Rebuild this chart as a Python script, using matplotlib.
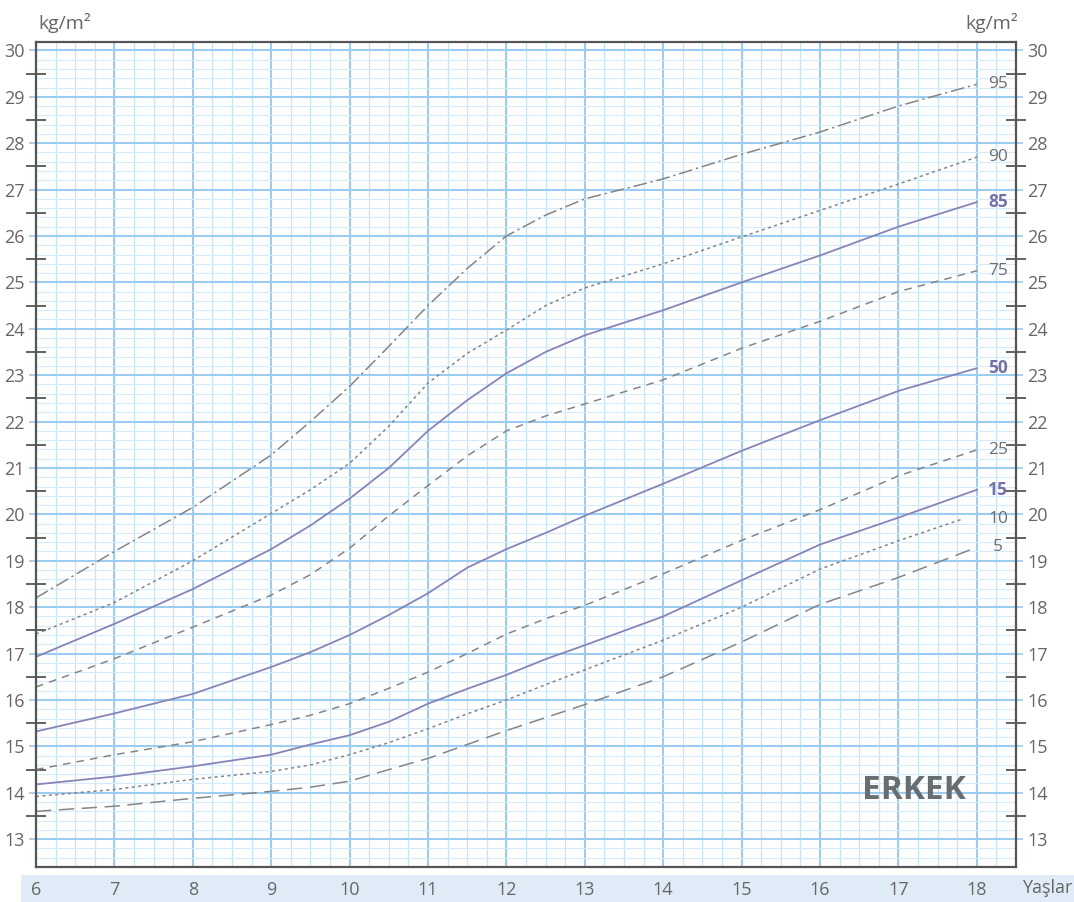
import numpy as np
import matplotlib
matplotlib.use("Agg")
import matplotlib.pyplot as plt
from matplotlib.patches import Rectangle

plt.rcParams["font.family"] = ["Liberation Sans Narrow", "Open Sans", "DejaVu Sans"]

# --- data: BMI percentiles (kg/m2) for boys, ages 6-18 ---
ages = [6, 7, 8, 9, 9.5, 10, 10.5, 11, 11.5, 12, 12.5, 13, 14, 15, 16, 17, 18]
ages_p10 = ages[:-1] + [17.8]

p95 = [18.2, 19.2, 20.15, 21.28, 22.0, 22.76, 23.62, 24.5, 25.3, 26.0, 26.45, 26.8, 27.23, 27.76, 28.24, 28.8, 29.27]
p90 = [17.42, 18.1, 19.0, 20.02, 20.53, 21.1, 21.9, 22.83, 23.47, 23.97, 24.5, 24.88, 25.4, 25.98, 26.55, 27.12, 27.7]
p85 = [16.93, 17.64, 18.39, 19.25, 19.76, 20.34, 21.0, 21.8, 22.46, 23.04, 23.5, 23.86, 24.4, 25.0, 25.58, 26.2, 26.73]
p75 = [16.28, 16.89, 17.57, 18.26, 18.7, 19.27, 19.97, 20.62, 21.26, 21.8, 22.12, 22.38, 22.9, 23.58, 24.16, 24.8, 25.25]
p50 = [15.32, 15.71, 16.13, 16.71, 17.03, 17.4, 17.83, 18.3, 18.85, 19.25, 19.6, 19.97, 20.66, 21.37, 22.03, 22.66, 23.15]
p25 = [14.5, 14.82, 15.1, 15.47, 15.67, 15.92, 16.25, 16.6, 17.0, 17.42, 17.75, 18.04, 18.72, 19.44, 20.1, 20.83, 21.39]
p15 = [14.18, 14.35, 14.57, 14.82, 15.04, 15.24, 15.53, 15.92, 16.24, 16.54, 16.88, 17.18, 17.8, 18.58, 19.35, 19.93, 20.53]
p10 = [13.92, 14.07, 14.29, 14.46, 14.6, 14.82, 15.08, 15.38, 15.7, 16.0, 16.33, 16.65, 17.29, 18.0, 18.82, 19.43, 19.89]
p5 = [13.6, 13.71, 13.88, 14.03, 14.12, 14.25, 14.5, 14.74, 15.04, 15.34, 15.62, 15.9, 16.5, 17.25, 18.06, 18.64, 19.29]

GRAY = "#858585"
PURPLE = "#8784b8"
LABEL_GRAY = "#6e6e6e"
LABEL_PURPLE = "#7471a8"

fig = plt.figure(figsize=(10.74, 9.02), dpi=100)
ax = fig.add_axes([0.0335, 0.0388, 0.9125, 0.9146])
ax.set_xlim(6, 18.5)
ax.set_ylim(12.4, 30.18)

# light blue band behind the age labels
fig.patches.append(Rectangle((0.02, 0.0), 0.98, 0.03, transform=fig.transFigure,
                             facecolor="#dfecf7", edgecolor="none", zorder=-5))

# graph-paper grid
for x in np.arange(6, 18.51, 0.25):
    major = abs(x - round(x)) < 1e-6
    ax.axvline(x, color="#9ccdf1" if major else "#c9e4f8",
               lw=1.5 if major else 0.9, zorder=1)
for y in np.arange(12.4, 30.2, 0.2):
    major = abs(y - round(y)) < 1e-6
    ax.axhline(y, color="#9ccdf1" if major else "#d6ebfa",
               lw=1.5 if major else 0.8, zorder=1)

# percentile curves
curves = [
    (ages, p95, "95", GRAY, (9, 2.5, 1.5, 2.5), False),
    (ages, p90, "90", GRAY, (2, 2.2), False),
    (ages, p85, "85", PURPLE, None, True),
    (ages, p75, "75", GRAY, (5, 4), False),
    (ages, p50, "50", PURPLE, None, True),
    (ages, p25, "25", GRAY, (5, 4), False),
    (ages, p15, "15", PURPLE, None, True),
    (ages_p10, p10, "10", GRAY, (2, 2.2), False),
    (ages, p5, "5", GRAY, (10, 5), False),
]
for xs, ys, name, color, dashes, bold in curves:
    kw = dict(color=color, lw=1.3 if bold else 1.1, zorder=3)
    if dashes:
        kw["dashes"] = dashes
    ax.plot(xs, ys, **kw)
    ax.text(18.27, ys[-1], name, ha="center", va="center", fontsize=12.5,
            color=LABEL_PURPLE if bold else LABEL_GRAY,
            fontweight="bold" if bold else "normal", zorder=4)

ax.text(17.2, 14.05, "ERKEK", ha="center", va="center", fontsize=24,
        fontweight="bold", color="#686d72", zorder=4)

# axes styling
for s in ax.spines.values():
    s.set_color("#555555")
    s.set_linewidth(1.6)
    s.set_zorder(5)

ax.set_yticks(range(13, 31))
ax.set_yticks(np.arange(13.5, 30, 1.0), minor=True)
ax.tick_params(axis="y", which="major", left=True, right=True, labelleft=True,
               labelright=True, direction="out", length=5, width=1.4,
               color="#a9d2f1", labelsize=13, labelcolor="#666666", pad=3)
ax.tick_params(axis="y", which="minor", left=True, right=True,
               direction="inout", length=14, width=1.3, color="#555555")
ax.set_xticks(range(6, 19))
ax.tick_params(axis="x", which="both", length=0, pad=10, labelsize=13,
               labelcolor="#666666")

fig.text(0.036, 0.975, "kg/m²", ha="left", va="center", fontsize=14, color="#666666")
fig.text(0.948, 0.975, "kg/m²", ha="right", va="center", fontsize=14, color="#666666")
fig.text(0.952, 0.016, "Yaşlar", ha="left", va="center", fontsize=13, color="#666666")

fig.savefig("out.png", dpi=100)
